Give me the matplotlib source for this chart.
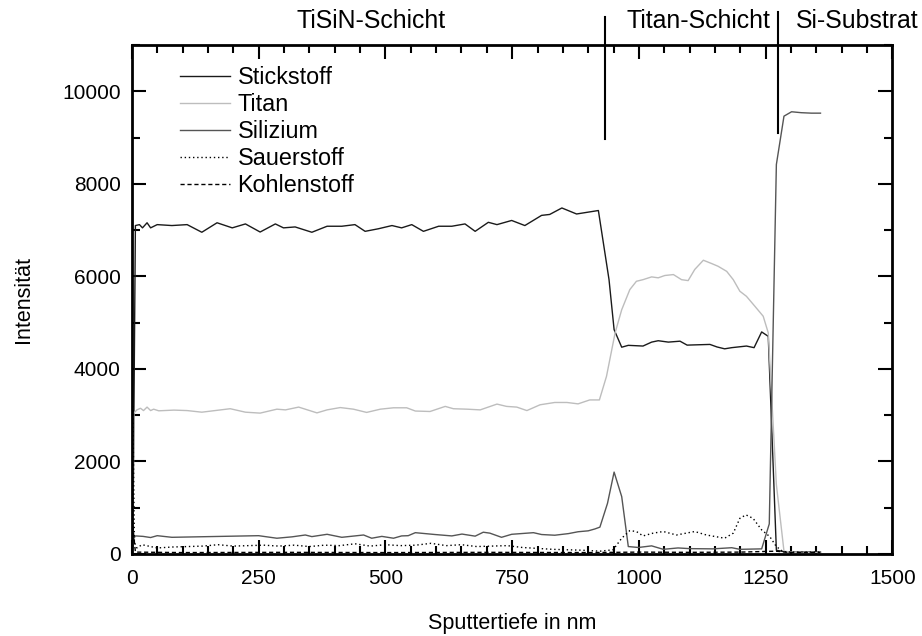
import matplotlib
matplotlib.use('Agg')
import matplotlib.pyplot as plt
from matplotlib.ticker import MultipleLocator

plt.rcParams['font.family'] = ['Liberation Sans', 'DejaVu Sans']

# Sputtertiefe (nm) und Intensitaet je Element
n_depth = [2, 7, 15, 21, 30, 37, 50, 79, 109, 138, 168, 198, 224, 253, 283, 299, 322, 355,
           385, 414, 440, 460, 486, 513, 532, 552, 575, 605, 631, 657, 677, 703, 720, 749,
           775, 808, 824, 848, 877, 920, 941, 951, 966, 979, 1008, 1025, 1038, 1058, 1081,
           1095, 1140, 1154, 1169, 1183, 1212, 1227, 1242, 1255, 1271, 1286, 1300, 1320,
           1340, 1358]
n_int = [150, 7100, 7120, 7050, 7160, 7050, 7120, 7100, 7120, 6955, 7160, 7050, 7135, 6960,
         7135, 7050, 7070, 6955, 7085, 7085, 7120, 6975, 7030, 7100, 7050, 7120, 6975, 7085,
         7085, 7135, 6975, 7170, 7120, 7210, 7100, 7320, 7340, 7480, 7350, 7425, 5930, 4850,
         4470, 4510, 4495, 4580, 4610, 4580, 4600, 4515, 4530, 4475, 4435, 4460, 4495, 4460,
         4800, 4705, 80, 50, 40, 40, 40, 40]

ti_depth = [2, 4, 10, 17, 23, 30, 37, 43, 53, 83, 109, 138, 194, 224, 253, 286, 303, 329,
            365, 385, 411, 437, 463, 490, 516, 542, 559, 588, 618, 634, 661, 687, 720, 739,
            759, 779, 805, 834, 858, 880, 903, 922, 936, 953, 966, 982, 995, 1008, 1025,
            1038, 1051, 1068, 1084, 1097, 1110, 1127, 1143, 1156, 1173, 1186, 1199, 1212,
            1229, 1245, 1255, 1271, 1286, 1300, 1320, 1340, 1358]
ti_int = [100, 3045, 3115, 3150, 3100, 3175, 3100, 3130, 3095, 3110, 3100, 3065, 3140, 3065,
          3045, 3130, 3115, 3175, 3050, 3115, 3165, 3130, 3060, 3130, 3160, 3160, 3090, 3080,
          3190, 3140, 3130, 3115, 3240, 3190, 3175, 3100, 3225, 3275, 3275, 3245, 3330, 3330,
          3840, 4780, 5280, 5715, 5895, 5930, 5990, 5970, 6020, 6040, 5930, 5910, 6150, 6350,
          6280, 6220, 6110, 5930, 5680, 5570, 5350, 5140, 4780, 1500, 60, 40, 30, 30, 30]

si_depth = [2, 7, 22, 37, 50, 79, 250, 286, 316, 342, 355, 385, 414, 440, 457, 473, 493,
            516, 532, 545, 559, 598, 631, 651, 677, 693, 706, 729, 749, 792, 808, 834, 861,
            880, 900, 913, 923, 938, 951, 966, 979, 999, 1025, 1048, 1077, 1100, 1146, 1183,
            1199, 1242, 1257, 1271, 1286, 1301, 1320, 1340, 1358]
si_int = [300, 390, 380, 355, 395, 360, 395, 340, 370, 410, 375, 425, 360, 390, 410, 340,
          380, 340, 390, 395, 460, 420, 390, 430, 385, 470, 450, 360, 425, 460, 420, 405,
          440, 480, 500, 540, 580, 1095, 1770, 1240, 160, 140, 175, 100, 130, 115, 110, 135,
          100, 110, 650, 8420, 9465, 9560, 9540, 9530, 9530]

o_depth = [2, 5, 10, 20, 37, 50, 80, 110, 140, 170, 200, 230, 260, 290, 320, 350, 380, 410,
           440, 470, 500, 530, 560, 590, 620, 650, 680, 710, 740, 770, 800, 830, 860, 890,
           923, 949, 966, 982, 995, 1008, 1028, 1048, 1074, 1110, 1133, 1169, 1186, 1199,
           1211, 1225, 1242, 1258, 1271, 1284, 1300, 1320, 1340, 1358]
o_int = [3200, 250, 130, 200, 160, 130, 150, 160, 170, 200, 170, 180, 190, 170, 190, 160,
         190, 180, 220, 170, 200, 180, 190, 230, 180, 200, 160, 170, 180, 140, 120, 100, 90,
         80, 60, 90, 340, 505, 485, 390, 450, 485, 410, 485, 410, 340, 450, 770, 845, 770,
         520, 375, 160, 50, 40, 40, 40, 40]

c_depth = [2, 7, 100, 300, 500, 700, 900, 1000, 1100, 1200, 1270, 1300, 1358]
c_int = [600, 40, 30, 35, 30, 35, 30, 40, 35, 40, 60, 30, 30]

fig = plt.figure(figsize=(9.22, 6.36), dpi=100)
ax = fig.add_axes([0.143, 0.129, 0.825, 0.800])

ax.plot(n_depth, n_int, color='#1a1a1a', lw=1.0, label='Stickstoff')
ax.plot(ti_depth, ti_int, color='#bdbdbd', lw=1.0, label='Titan')
ax.plot(si_depth, si_int, color='#555555', lw=1.0, label='Silizium')
ax.plot(o_depth, o_int, color='black', lw=1.0, ls=(0, (1, 2)), label='Sauerstoff')
ax.plot(c_depth, c_int, color='black', lw=1.0, ls=(0, (3, 2)), label='Kohlenstoff')

ax.set_xlim(0, 1500)
ax.set_ylim(0, 11000)
ax.xaxis.set_major_locator(MultipleLocator(250))
ax.xaxis.set_minor_locator(MultipleLocator(50))
ax.yaxis.set_major_locator(MultipleLocator(2000))
ax.yaxis.set_minor_locator(MultipleLocator(1000))
ax.tick_params(which='both', direction='in', top=True, right=True, width=1.5,
               labelsize=15)
ax.tick_params(which='major', length=10)
ax.tick_params(which='minor', length=6)
ax.tick_params(axis='x', which='major', pad=11)
ax.tick_params(axis='y', which='major', pad=8)
for s in ax.spines.values():
    s.set_linewidth(2)

ax.set_xlabel('Sputtertiefe in nm', fontsize=15.5, labelpad=18)
ax.set_ylabel('Intensität', fontsize=15.5, labelpad=20)

leg = ax.legend(loc='upper left', bbox_to_anchor=(0.036, 1.0), frameon=False,
                fontsize=16.8, handlelength=2.15, labelspacing=0.17, handletextpad=0.3)

# Schichtgrenzen oberhalb des Diagramms
for xb, y0, y1 in [(933, 8980, 11600), (1274, 9110, 11710)]:
    ax.plot([xb, xb], [y0, y1], color='black', lw=1.5, clip_on=False)
ax.text(472, 11520, 'TiSiN-Schicht', ha='center', va='center', fontsize=17.9, clip_on=False)
ax.text(1118, 11520, 'Titan-Schicht', ha='center', va='center', fontsize=17.9, clip_on=False)
ax.text(1431, 11520, 'Si-Substrat', ha='center', va='center', fontsize=17.9, clip_on=False)

fig.savefig('out.png', dpi=100)
